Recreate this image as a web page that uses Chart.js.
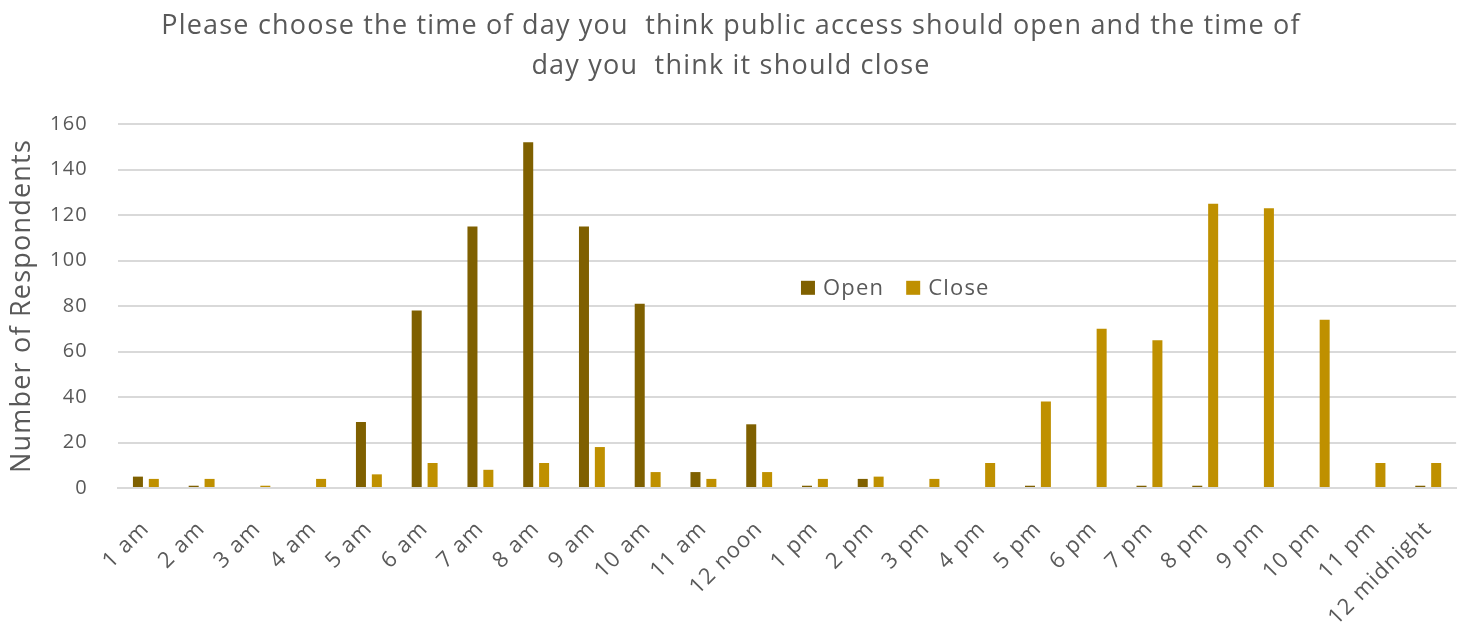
<!DOCTYPE html>
<html>
<head>
<meta charset="utf-8">
<script src="https://cdn.jsdelivr.net/npm/chart.js@4"></script>
<style>
  html, body { margin: 0; padding: 0; background: #fff; }
  #wrap { width: 1467px; height: 624px; }
</style>
</head>
<body>
<div id="wrap"><canvas id="chart" width="1467" height="624"></canvas></div>
<script>
// hours of the day
const hourLabels = ['1 am', '2 am', '3 am', '4 am', '5 am', '6 am', '7 am', '8 am', '9 am', '10 am', '11 am', '12 noon',
    '1 pm', '2 pm', '3 pm', '4 pm', '5 pm', '6 pm', '7 pm', '8 pm', '9 pm', '10 pm', '11 pm', '12 midnight'];

// respondents per hour
const openValues  = [5, 1, 0, 0, 29, 78, 115, 152, 115, 81, 7, 28, 1, 4, 0, 0, 1, 0, 1, 1, 0, 0, 0, 1];
const closeValues = [4, 4, 1, 4, 6, 11, 8, 11, 18, 7, 4, 7, 4, 5, 4, 11, 38, 70, 65, 125, 123, 74, 11, 11];

const yTicks = [0, 20, 40, 60, 80, 100, 120, 140, 160];

const titleLines = ['Please choose the time of day you  think public access should open and the time of',
    'day you  think it should close'];

const textColor = '#595959';
const gridColor = '#d9d9d9';
const openColor = '#7f6000';
const closeColor = '#bf9000';
const fontFamily = '"Open Sans", Roboto, sans-serif';
const spacing = '1.2px'; // the original font is set wide

// keep the wide letter spacing on the context for measuring and drawing
const spacedText = {
    id: 'spacedText',
    beforeUpdate(chart) { chart.ctx.letterSpacing = spacing; },
    beforeDraw(chart) { chart.ctx.letterSpacing = spacing; }
};

// small legend drawn inside the plot, the way the original sits
const innerLegend = {
    id: 'innerLegend',
    afterDraw(chart) {
        const ctx = chart.ctx;
        const area = chart.chartArea;
        const y = chart.scales.y.getPixelForValue(88);
        let x = area.left + (area.right - area.left) * 0.5104;
        const items = [['Open', openColor], ['Close', closeColor]];
        ctx.save();
        ctx.font = '22px ' + fontFamily;
        ctx.textBaseline = 'middle';
        items.forEach(([label, color]) => {
            ctx.fillStyle = color;
            ctx.fillRect(x, y - 7, 14, 14);
            ctx.fillStyle = textColor;
            ctx.fillText(label, x + 22, y + 1);
            x += 22 + ctx.measureText(label).width + 22;
        });
        ctx.restore();
    }
};

new Chart(document.getElementById('chart').getContext('2d'), {
    type: 'bar',
    data: {
        labels: hourLabels,
        datasets: [{
            label: 'Open',
            data: openValues,
            backgroundColor: openColor,
            categoryPercentage: 0.57,
            barPercentage: 0.63
        }, {
            label: 'Close',
            data: closeValues,
            backgroundColor: closeColor,
            categoryPercentage: 0.57,
            barPercentage: 0.63
        }]
    },
    options: {
        responsive: false,
        animation: false,
        layout: { padding: { left: 0, right: 5, top: 0, bottom: 0 } },
        plugins: {
            legend: { display: false },
            tooltip: { enabled: false },
            title: {
                display: true,
                text: titleLines,
                color: textColor,
                font: { family: fontFamily, size: 27, weight: 'normal', lineHeight: 1.5 },
                padding: { top: 6, bottom: 37 }
            }
        },
        scales: {
            x: {
                afterFit(axis) { axis.height = 136; },
                grid: { display: false },
                border: { display: true, color: gridColor, width: 2 },
                ticks: {
                    color: textColor,
                    font: { family: fontFamily, size: 22 },
                    minRotation: 45,
                    maxRotation: 45,
                    autoSkip: false,
                    padding: 20
                }
            },
            y: {
                min: 0,
                max: 160,
                afterBuildTicks(axis) {
                    axis.ticks = yTicks.map(v => ({ value: v }));
                },
                afterFit(axis) { axis.width = 118; },
                grid: { color: gridColor, lineWidth: 2, drawTicks: false },
                border: { display: false },
                ticks: {
                    color: textColor,
                    font: { family: fontFamily, size: 20 },
                    padding: 30
                },
                title: {
                    display: true,
                    text: 'Number of Respondents',
                    color: textColor,
                    font: { family: fontFamily, size: 27, weight: 'normal' },
                    padding: { top: 6, bottom: 0 }
                }
            }
        }
    },
    plugins: [spacedText, innerLegend]
});
</script>
</body>
</html>
